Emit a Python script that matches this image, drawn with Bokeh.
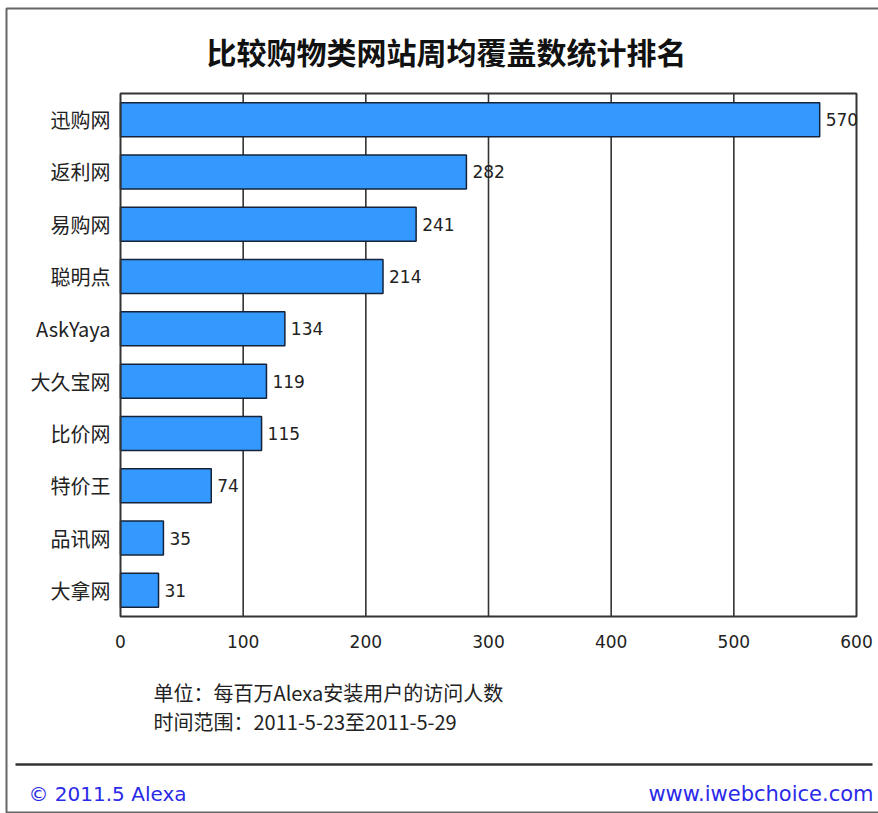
from bokeh.plotting import figure
from bokeh.models import Range1d, ColumnDataSource
from bokeh.core.properties import value
from bokeh.embed import file_html
from bokeh.resources import INLINE

sites = ["迅购网", "返利网", "易购网", "聪明点", "AskYaya", "大久宝网", "比价网", "特价王", "品讯网", "大拿网"]
values = [570, 282, 241, 214, 134, 119, 115, 74, 35, 31]
x_ticks = [0, 100, 200, 300, 400, 500, 600]

title_text = "比较购物类网站周均覆盖数统计排名"
note1 = "单位：每百万Alexa安装用户的访问人数"
note2 = "时间范围：2011-5-23至2011-5-29"
footer_left = "© 2011.5 Alexa"
footer_right = "www.iwebchoice.com"

CJK = "Noto Sans CJK SC"
LAT = "DejaVu Sans"
W, H = 878, 813

# layout of the frame in canvas pixels
FL, FR, FT, FB = 120, 856, 93, 616
n = len(sites)
band = (FB - FT) / n
xmin, xmax = x_ticks[0], x_ticks[-1]
xs = (xmax - xmin) / (FR - FL)

def X(px):
    return xmin + (px - FL) * xs

def Y(py):
    return 0.5 + (py - FT) / band

p = figure(width=W, height=H, output_backend="svg", toolbar_location=None,
           x_range=Range1d(X(0), X(W)), y_range=Range1d(Y(H), Y(0)),
           min_border=0, x_axis_type=None, y_axis_type=None)
p.xgrid.visible = False
p.ygrid.visible = False
p.outline_line_color = None
p.background_fill_color = "white"
p.border_fill_color = "white"

ranks = list(range(1, n + 1))
src = ColumnDataSource(dict(site=sites, value=values, rank=ranks,
                            label=[str(v) for v in values]))

# vertical grid lines
grid = ColumnDataSource(dict(x=x_ticks[1:-1]))
p.segment(x0="x", x1="x", y0=0.5, y1=n + 0.5, source=grid,
          line_color="#333333", line_width=1.6)

# bars
p.hbar(y="rank", right="value", left=0, height=0.65, source=src,
       fill_color="#3399FF", line_color="#14233a", line_width=1.5)

# frame
p.quad(left=xmin, right=xmax, bottom=n + 0.5, top=0.5, fill_color=None,
       line_color="#333333", line_width=2)

# value labels
p.text(x="value", y="rank", text="label", source=src, x_offset=6,
       text_baseline="middle", text_align="left", text_font=value(LAT),
       text_font_size="17px", text_color="#222222")

# category labels
p.text(x=X(FL - 10), y="rank", text="site", source=src,
       text_baseline="middle", text_align="right", text_font=value(CJK),
       text_font_size="20px", text_color="#222222")

# x tick labels
tk = ColumnDataSource(dict(x=x_ticks, t=[str(t) for t in x_ticks]))
p.text(x="x", y=Y(641), text="t", source=tk, text_baseline="middle",
       text_align="center", text_font=value(LAT), text_font_size="17px",
       text_color="#222222")

# title
p.text(x=[X(446)], y=[Y(50)], text=[title_text], text_baseline="middle",
       text_align="center", text_font=value(CJK), text_font_size="30px",
       text_font_style="bold", text_color="#111111")

# notes
p.text(x=[X(153), X(153)], y=[Y(692), Y(721)], text=[note1, note2],
       text_baseline="middle", text_align="left", text_font=value(CJK),
       text_font_size="20px", text_color="#222222")

# footer separator and texts
p.segment(x0=[X(15)], x1=[X(872)], y0=[Y(764)], y1=[Y(764)],
          line_color="#333333", line_width=2.5)
p.text(x=[X(28)], y=[Y(793)], text=[footer_left], text_baseline="middle",
       text_align="left", text_font=value(LAT), text_font_size="20px",
       text_color="#2a2ae8")
p.text(x=[X(873)], y=[Y(793)], text=[footer_right], text_baseline="middle",
       text_align="right", text_font=value(LAT), text_font_size="21px",
       text_color="#2a2ae8")

# outer border (left, top, bottom)
p.line(x=[X(W + 5), X(6), X(6), X(W + 5)], y=[Y(8), Y(8), Y(812), Y(812)],
       line_color="#666666", line_width=2)

open("out.html", "w").write(file_html(p, INLINE))
